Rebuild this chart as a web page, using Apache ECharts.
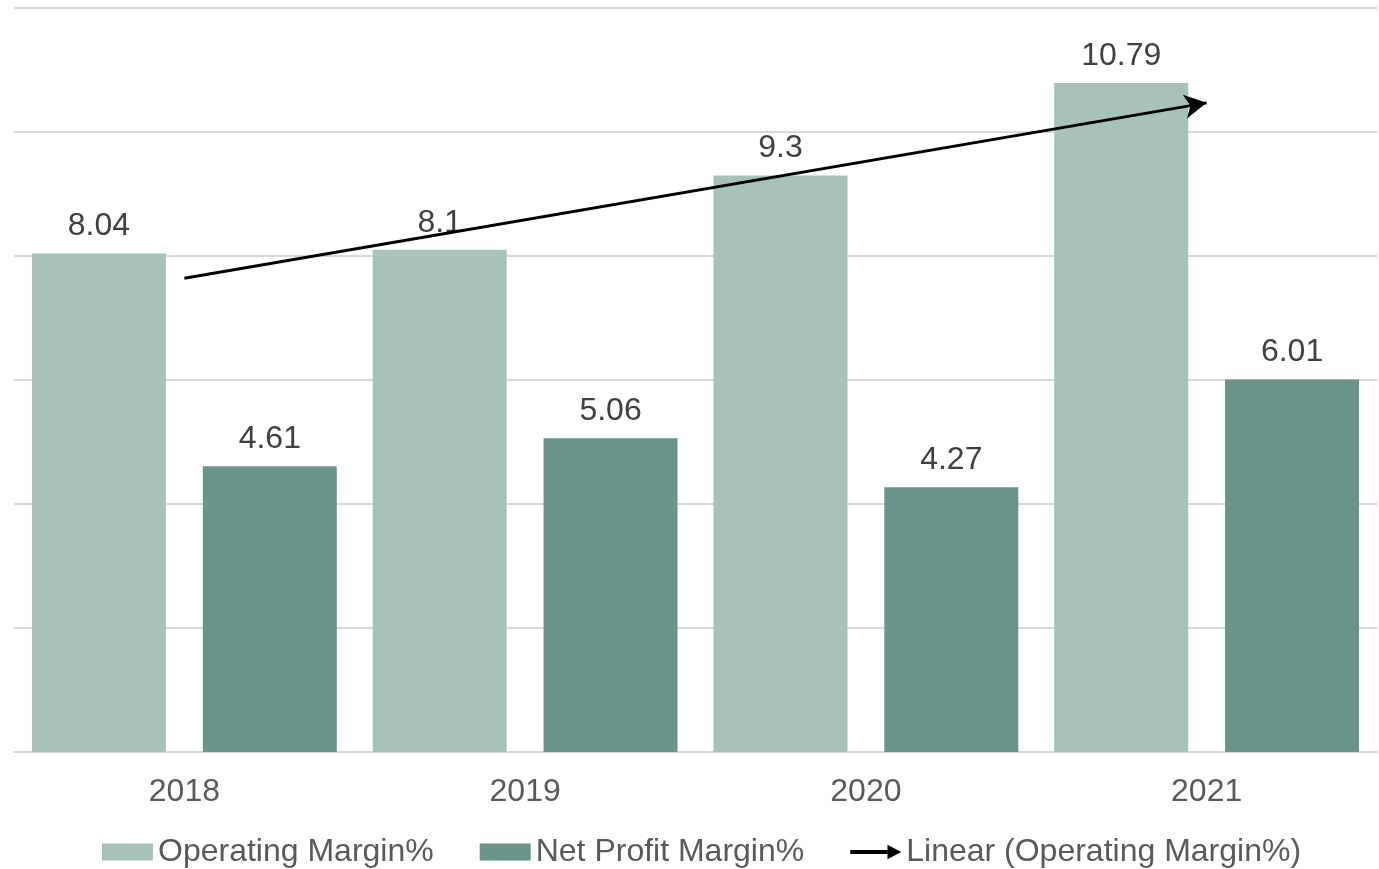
<!DOCTYPE html>
<html>
<head>
<meta charset="UTF-8">
<script type="text/javascript" src="https://cdn.jsdelivr.net/npm/echarts@6/dist/echarts.min.js"></script>
<title>Margins</title>
<style>html,body{margin:0;padding:0;background:#fff;}</style>
</head>
<body>
	<div id="main" style="width:1379px;height:869px;"></div>
	<script type="text/javascript">
		var years = ['2018', '2019', '2020', '2021'];
		var operatingMargin = [8.04, 8.1, 9.3, 10.79];
		var netProfitMargin = [4.61, 5.06, 4.27, 6.01];
		// trend line ends
		var trendStart = 7.64;
		var trendEnd = 10.47;

		var myChart = echarts.init(document.getElementById('main'));
		var font = 'Liberation Sans, Arial, sans-serif';
		var arrowIcon = 'path://M0,6.5 L38,6.5 L38,1 L52,8.5 L38,16 L38,10.5 L0,10.5 Z';

		var option = {
			animation: false,
			textStyle: { fontFamily: font },
			grid: { left: 14, right: 2, top: 8, bottom: 117 },
			legend: {
				bottom: -4,
				left: 97,
				itemWidth: 51,
				itemHeight: 17,
				itemGap: 46,
				textStyle: { fontSize: 32, color: '#595959', fontFamily: font },
				data: [
					{ name: 'Operating Margin%', icon: 'rect' },
					{ name: 'Net Profit Margin%', icon: 'rect' },
					{ name: 'Linear (Operating Margin%)', icon: arrowIcon, itemStyle: { color: '#000' } }
				]
			},
			xAxis: {
				type: 'category',
				data: years,
				axisLine: { lineStyle: { color: '#D9D9D9', width: 2 } },
				axisTick: { show: false },
				axisLabel: { fontSize: 32, color: '#595959', margin: 24 }
			},
			yAxis: {
				type: 'value',
				min: 0,
				max: 12,
				interval: 2,
				axisLabel: { show: false },
				axisLine: { show: false },
				axisTick: { show: false },
				splitLine: { lineStyle: { color: '#D9D9D9', width: 2 } }
			},
			series: [
				{
					name: 'Operating Margin%',
					type: 'bar',
					data: operatingMargin,
					barWidth: 134,
					barGap: '27.5%',
					itemStyle: { color: '#A7C2B9' },
					label: { show: true, position: 'top', distance: 11, fontSize: 32, color: '#404040' }
				},
				{
					name: 'Net Profit Margin%',
					type: 'bar',
					data: netProfitMargin,
					barWidth: 134,
					itemStyle: { color: '#6A9389' },
					label: { show: true, position: 'top', distance: 11, fontSize: 32, color: '#404040' }
				},
				{
					name: 'Linear (Operating Margin%)',
					type: 'line',
					data: [],
					itemStyle: { color: '#000' },
					lineStyle: { color: '#000', width: 3 },
					markLine: {
						silent: true,
						symbol: ['none', 'arrow'],
						symbolSize: [18, 22],
						label: { show: false },
						lineStyle: { color: '#000', width: 3, type: 'solid' },
						data: [[
							{ xAxis: years[0], yAxis: trendStart },
							{ xAxis: years[years.length - 1], yAxis: trendEnd }
						]]
					}
				}
			]
		};
		myChart.setOption(option);
	</script>
</body>
</html>
